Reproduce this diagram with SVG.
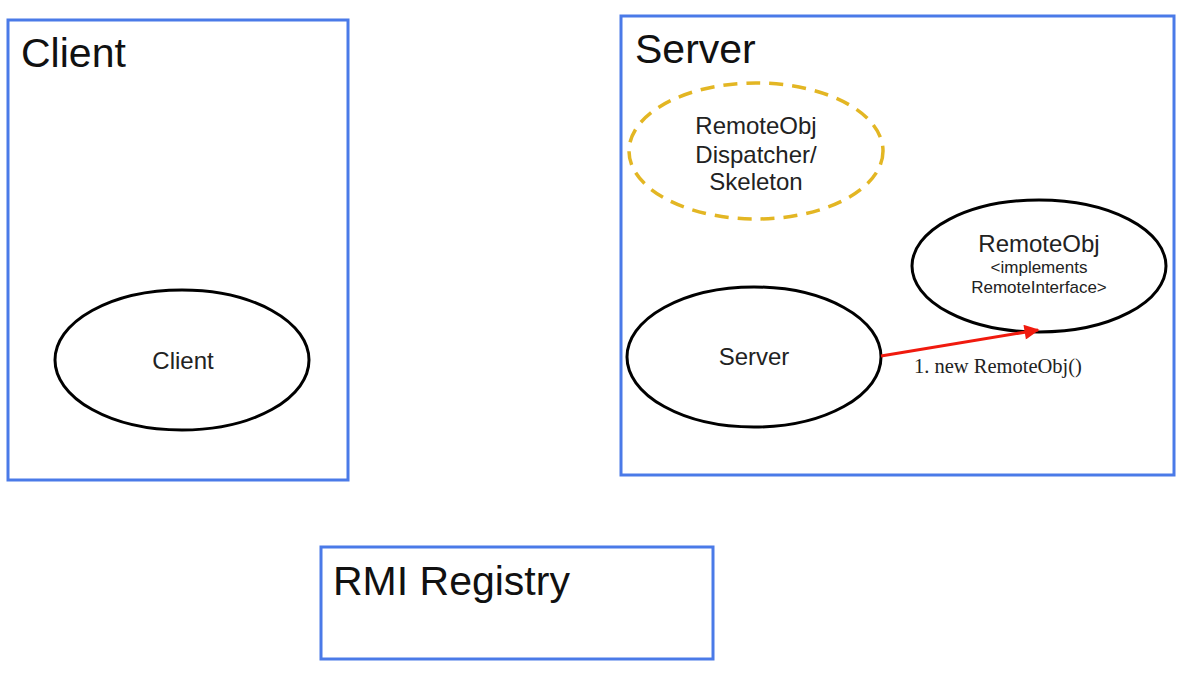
<svg xmlns="http://www.w3.org/2000/svg" width="1183" height="674" viewBox="0 0 1183 674">
<defs>
<style>
.box{fill:none;stroke:#4a7ae8;stroke-width:3}
.ell{fill:none;stroke:#000;stroke-width:3}
.title{font-family:"Liberation Sans",Arial,sans-serif;font-size:41px;fill:#111}
.lbl{font-family:"Liberation Sans",Arial,sans-serif;font-size:24px;fill:#222;text-anchor:middle}
.sm{font-family:"Liberation Sans",Arial,sans-serif;font-size:17px;fill:#222;text-anchor:middle}
</style>
<marker id="ah" viewBox="0 0 10 10" refX="9" refY="5" markerWidth="6" markerHeight="5" orient="auto" markerUnits="strokeWidth">
<path d="M0,0 L10,5 L0,10 z" fill="#f01a0e"/>
</marker>
</defs>
<rect width="1183" height="674" fill="#fff"/>
<g id="client-box"><rect class="box" x="8" y="20" width="340" height="460"/><text class="title" x="21" y="67">Client</text></g>
<g id="server-box"><rect class="box" x="621" y="16" width="553" height="459"/><text class="title" x="635" y="63">Server</text></g>
<g id="rmi-registry"><rect class="box" x="321" y="547" width="392" height="112"/><text class="title" x="333" y="595">RMI Registry</text></g>
<g id="client"><ellipse class="ell" cx="182" cy="360" rx="127" ry="70"/><text class="lbl" x="183" y="369">Client</text></g>
<g id="skeleton"><ellipse cx="756" cy="151" rx="127" ry="68" fill="none" stroke="#e3b623" stroke-width="3.5" stroke-dasharray="14,9"/>
<text class="lbl" x="756" y="134">RemoteObj</text><text class="lbl" x="756" y="163">Dispatcher/</text><text class="lbl" x="756" y="190">Skeleton</text></g>
<g id="remoteobj"><ellipse class="ell" cx="1039" cy="266" rx="127" ry="66"/>
<text class="lbl" x="1039" y="252">RemoteObj</text><text class="sm" x="1039" y="273">&lt;implements</text><text class="sm" x="1039" y="293">RemoteInterface&gt;</text></g>
<g id="server"><ellipse class="ell" cx="754" cy="357" rx="127" ry="70"/><text class="lbl" x="754" y="365">Server</text></g>
<g id="connectors">
<line x1="881" y1="356" x2="1038" y2="330" stroke="#f01a0e" stroke-width="3" marker-end="url(#ah)"/>
<text x="914" y="373" font-family="Liberation Serif,'Times New Roman',serif" font-size="20.5" fill="#222">1. new RemoteObj()</text>
</g>
</svg>
